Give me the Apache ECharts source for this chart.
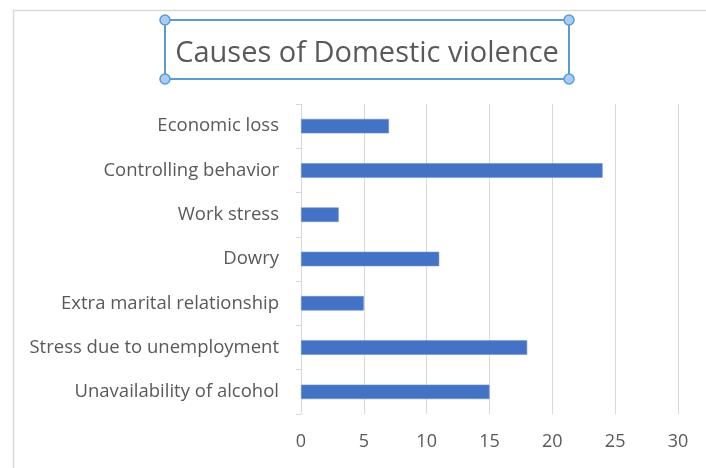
<!DOCTYPE html>
<html>
<head>
<meta charset="utf-8">
<script src="https://cdn.jsdelivr.net/npm/echarts@6/dist/echarts.min.js"></script>
<style>
  html, body { margin: 0; padding: 0; background: #fff; }
  #chart { width: 706px; height: 468px; }
</style>
</head>
<body>
<div id="chart"></div>
<script>
// Causes listed top to bottom, with the number of responses for each
const causes = [
  'Economic loss',
  'Controlling behavior',
  'Work stress',
  'Dowry',
  'Extra marital relationship',
  'Stress due to unemployment',
  'Unavailability of alcohol'
];
const counts = [7, 24, 3, 11, 5, 18, 15];
const axisMax = 30;
const axisStep = 5;

const chart = echarts.init(document.getElementById('chart'), null, { renderer: 'canvas' });

const textColor = '#595959';
const lineColor = '#d9d9d9';
const selBlue = '#5b9bd5';
const font = '"Open Sans", sans-serif';

// Title frame corners (selected-title look)
const box = { x: 165, y: 20, w: 404, h: 59 };
const corners = [
  [box.x, box.y], [box.x + box.w, box.y],
  [box.x, box.y + box.h], [box.x + box.w, box.y + box.h]
];

chart.setOption({
  backgroundColor: '#ffffff',
  animation: false,
  title: {
    text: 'Causes of Domestic violence',
    left: 362,
    top: 34,
    textAlign: 'center',
    textStyle: { color: textColor, fontFamily: font, fontSize: 29, fontWeight: 'normal' }
  },
  grid: { left: 301, right: 28, top: 104, height: 310, containLabel: false },
  xAxis: {
    type: 'value',
    min: 0,
    max: axisMax,
    interval: axisStep,
    axisLine: { show: false },
    axisTick: { show: false },
    splitLine: { lineStyle: { color: lineColor, width: 1 } },
    axisLabel: { color: textColor, fontFamily: font, fontSize: 18, margin: 19 }
  },
  yAxis: {
    type: 'category',
    data: causes,
    inverse: true,
    axisLine: { lineStyle: { color: lineColor, width: 1 } },
    axisTick: { show: true, length: 5, lineStyle: { color: lineColor } },
    axisLabel: { color: textColor, fontFamily: font, fontSize: 18.5, margin: 22 }
  },
  series: [{
    type: 'bar',
    data: counts,
    barWidth: 14.5,
    itemStyle: { color: '#4472c4', borderColor: '#6f93d2', borderWidth: 0.6 }
  }],
  graphic: [
    {
      type: 'rect',
      silent: true,
      shape: { x: 13.5, y: 10.5, width: 900, height: 700 },
      style: { fill: 'none', stroke: '#d9d9d9', lineWidth: 1.5 },
      z: -10
    },
    {
      type: 'rect',
      silent: true,
      shape: { x: box.x, y: box.y, width: box.w, height: box.h },
      style: { fill: 'none', stroke: selBlue, lineWidth: 2 },
      z: 10
    }
  ].concat(corners.map(([cx, cy]) => ({
    type: 'circle',
    silent: true,
    shape: { cx: cx, cy: cy, r: 5 },
    style: { fill: '#a9cdf0', stroke: selBlue, lineWidth: 1.5 },
    z: 11
  })))
});
</script>
</body>
</html>
